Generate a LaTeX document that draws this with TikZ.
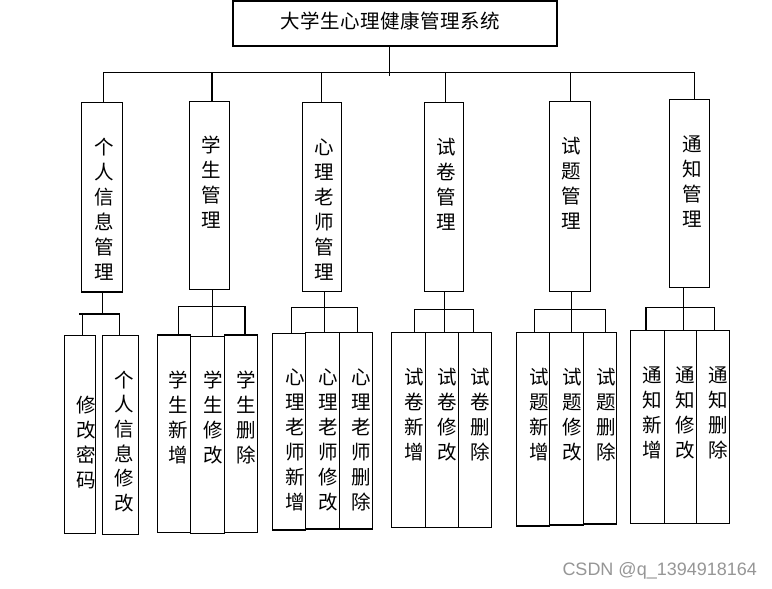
\documentclass[tikz,border=0pt]{standalone}
\usepackage{fontspec}
\newfontfamily\cjk{Noto Sans CJK SC}
\setmainfont{Liberation Sans}
\usetikzlibrary{fit}
\definecolor{wmgray}{RGB}{150,150,150}
\newcommand{\tc}[1]{\makebox[20pt]{#1}}
\tikzset{
  box/.style={draw, line width=1.1pt, inner sep=0pt, fit={#1}},
  vt/.style={font=\cjk\fontsize{19.5}{25}\selectfont, align=center, inner sep=0pt},
  vtl/.style={font=\cjk\fontsize{19.5}{24.6}\selectfont, align=center, inner sep=0pt},
  ln/.style={line width=1.1pt, line cap=rect}
}
\begin{document}
\begin{tikzpicture}[x=1pt,y=-1pt]
\useasboundingbox[fill=white] (0,0) rectangle (772,589);

% title
\node[box={(233,1) (557,46)}] (title) {};
\node[font=\cjk\fontsize{19.5}{22}\selectfont, inner sep=0pt] (titlet) at (390.5,21.3)
  {\tc{大}\tc{学}\tc{生}\tc{心}\tc{理}\tc{健}\tc{康}\tc{管}\tc{理}\tc{系}\tc{统}};

% level 1 boxes
\node[box={(81.3,102.3) (122.3,292)}] (p1) {};
\node[box={(189.3,101.3) (229.3,289.3)}] (p2) {};
\node[box={(302.3,102.3) (341.7,291.3)}] (p3) {};
\node[box={(424.3,102.3) (463.3,291.3)}] (p4) {};
\node[box={(549.3,101.3) (590.3,291.3)}] (p5) {};
\node[box={(669.3,99.3) (709.3,287.3)}] (p6) {};

\node[vt] (p1t) at (104.3,209.5) {个\\人\\信\\息\\管\\理};
\node[vt] (p2t) at (211.7,182.5) {学\\生\\管\\理};
\node[vt] (p3t) at (324.3,209.2) {心\\理\\老\\师\\管\\理};
\node[vt] (p4t) at (446.7,184.5) {试\\卷\\管\\理};
\node[vt] (p5t) at (571.7,183.8) {试\\题\\管\\理};
\node[vt] (p6t) at (692.3,181.3) {通\\知\\管\\理};

% leaves
\node[box={(64.3,335.7) (95.3,533.3)}] (a1) {};
\node[box={(102.3,335.7) (138.3,534.3)}] (a2) {};
\node[box={(157.3,335) (190.3,532.3)}] (b1) {};
\node[box={(190.3,336.7) (224.3,533.3)}] (b2) {};
\node[box={(224.3,335) (257.3,532.3)}] (b3) {};
\node[box={(272.3,333.3) (305.7,530)}] (c1) {};
\node[box={(305.7,332.3) (339.3,529)}] (c2) {};
\node[box={(339.3,332.3) (372.3,529)}] (c3) {};
\node[box={(391.7,332.3) (425.7,527.3)}] (d1) {};
\node[box={(425.7,332.3) (458.7,527.3)}] (d2) {};
\node[box={(458.7,332.3) (491.3,527.3)}] (d3) {};
\node[box={(516.3,332.3) (549.7,526)}] (e1) {};
\node[box={(549.7,332.3) (583.3,525)}] (e2) {};
\node[box={(583.3,332.3) (616.3,524)}] (e3) {};
\node[box={(630.3,330.3) (664.3,523.3)}] (f1) {};
\node[box={(664.3,330.3) (696.3,523.3)}] (f2) {};
\node[box={(696.3,330.3) (729.3,523.3)}] (f3) {};

\node[vt] (a1t) at (86.5,442.5) {修\\改\\密\\码};
\node[vtl] (a2t) at (124.5,441.5) {个\\人\\信\\息\\修\\改};
\node[vt] (b1t) at (178.3,417.5) {学\\生\\新\\增};
\node[vt] (b2t) at (213.3,417.5) {学\\生\\修\\改};
\node[vt] (b3t) at (246,417.5) {学\\生\\删\\除};
\node[vt] (c1t) at (295,440) {心\\理\\老\\师\\新\\增};
\node[vt] (c2t) at (328.3,440) {心\\理\\老\\师\\修\\改};
\node[vt] (c3t) at (361,440) {心\\理\\老\\师\\删\\除};
\node[vt] (d1t) at (414,415) {试\\卷\\新\\增};
\node[vt] (d2t) at (447.3,415) {试\\卷\\修\\改};
\node[vt] (d3t) at (480,415) {试\\卷\\删\\除};
\node[vt] (e1t) at (539.3,414.2) {试\\题\\新\\增};
\node[vt] (e2t) at (572.3,414.2) {试\\题\\修\\改};
\node[vt] (e3t) at (606,414.2) {试\\题\\删\\除};
\node[vt] (f1t) at (652.7,412.5) {通\\知\\新\\增};
\node[vt] (f2t) at (685.7,412.5) {通\\知\\修\\改};
\node[vt] (f3t) at (718.3,412.5) {通\\知\\删\\除};

% top connectors
\coordinate (tj) at (389.5,75);
\coordinate (barL) at (103.3,72.3);
\coordinate (barR) at (694.3,72.3);
\coordinate (x1) at (103.3,72.3);
\coordinate (x2) at (212,72.3);
\coordinate (x3) at (321.5,72.3);
\coordinate (x4) at (445.5,72.3);
\coordinate (x5) at (570.7,72.3);
\coordinate (x6) at (694.3,72.3);
\draw[ln] (title.south -| tj) -- (tj);
\draw[ln] (barL) -- (barR);
\foreach \i in {1,...,6} { \draw[ln] (x\i) -- (x\i |- p\i.north); }

% group connectors
\coordinate (aL) at (80,314); \coordinate (aM) at (102.3,314); \coordinate (aR) at (119.3,314);
\coordinate (aLd) at (82.3,314);
\draw[ln] (p1.south -| aM) -- (aM);
\draw[ln] (aL) -- (aR);
\draw[ln] (aLd) -- (aLd |- a1.north);
\draw[ln] (aR) -- (aR |- a2.north);

\coordinate (bL) at (178.3,306.7); \coordinate (bM) at (212.3,306.7); \coordinate (bR) at (245,306.7);
\draw[ln] (p2.south -| bM) -- (bM |- b2.north);
\draw[ln] (bL) -- (bR);
\draw[ln] (bL) -- (bL |- b1.north);
\draw[ln] (bR) -- (bR |- b3.north);

\coordinate (cL) at (291.7,307.3); \coordinate (cM) at (324.3,307.3); \coordinate (cR) at (357.3,307.3);
\draw[ln] (p3.south -| cM) -- (cM |- c2.north);
\draw[ln] (cL) -- (cR);
\draw[ln] (cL) -- (cL |- c1.north);
\draw[ln] (cR) -- (cR |- c3.north);

\coordinate (dL) at (414.3,309.3); \coordinate (dM) at (444.3,309.3); \coordinate (dR) at (473.3,309.3);
\draw[ln] (p4.south -| dM) -- (dM |- d2.north);
\draw[ln] (dL) -- (dR);
\draw[ln] (dL) -- (dL |- d1.north);
\draw[ln] (dR) -- (dR |- d3.north);

\coordinate (eL) at (534.7,309.3); \coordinate (eM) at (571.3,309.3); \coordinate (eR) at (605.3,309.3);
\draw[ln] (p5.south -| eM) -- (eM |- e2.north);
\draw[ln] (eL) -- (eR);
\draw[ln] (eL) -- (eL |- e1.north);
\draw[ln] (eR) -- (eR |- e3.north);

\coordinate (fL) at (646,307.3); \coordinate (fM) at (683.3,307.3); \coordinate (fR) at (714.3,307.3);
\draw[ln] (p6.south -| fM) -- (fM |- f2.north);
\draw[ln] (fL) -- (fR);
\draw[ln] (fL) -- (fL |- f1.north);
\draw[ln] (fR) -- (fR |- f3.north);

% watermark
\node[font=\fontsize{18}{18}\selectfont, text=wmgray, inner sep=0pt] (wm) at (659.7,571) {CSDN @q\_1394918164};
\end{tikzpicture}
\end{document}
